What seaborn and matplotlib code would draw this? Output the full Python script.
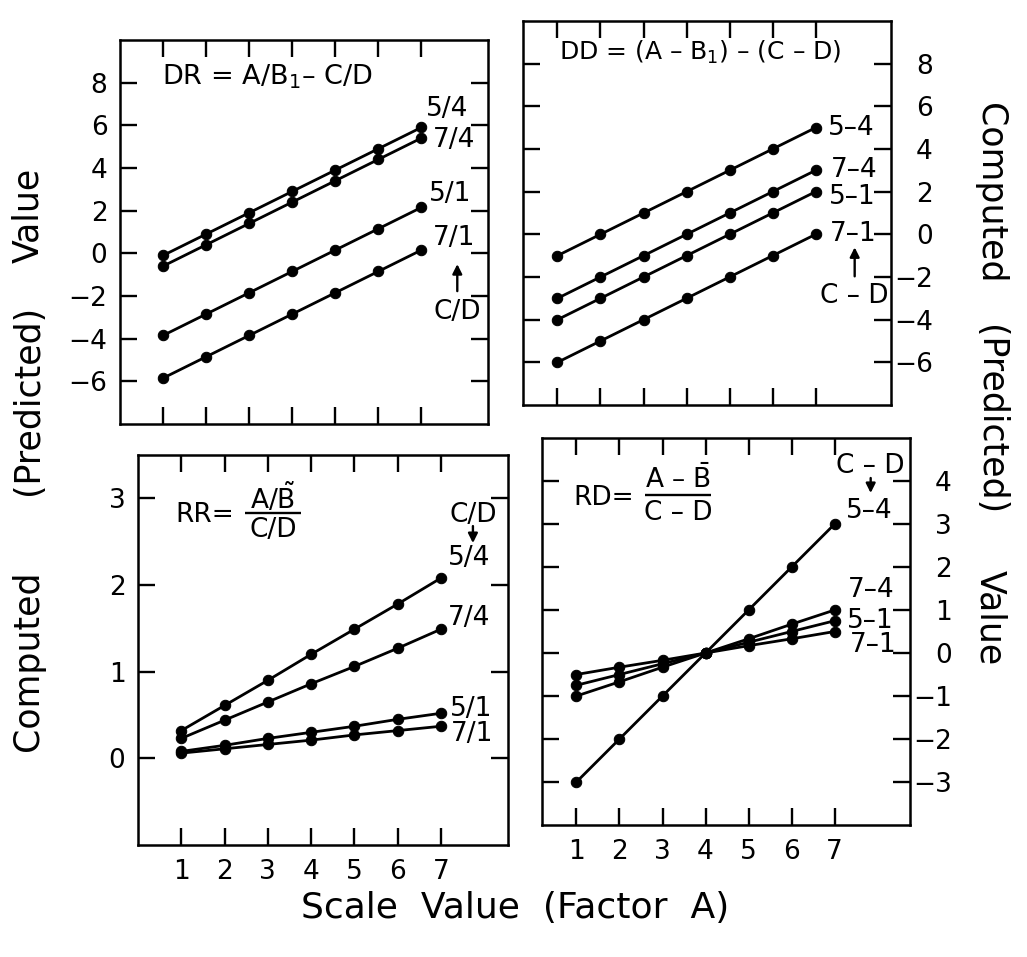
import numpy as np
import pandas as pd
import matplotlib
matplotlib.use("Agg")
import matplotlib.pyplot as plt
import seaborn as sns
from matplotlib.transforms import offset_copy

# ---------------------------------------------------------------- data
scale_values = [1, 2, 3, 4, 5, 6, 7]

# DR = A/B1 - C/D
dr_labels = ["5/4", "7/4", "5/1", "7/1"]
dr_54 = [-0.10, 0.90, 1.90, 2.90, 3.90, 4.90, 5.90]
dr_74 = [-0.60, 0.40, 1.40, 2.40, 3.40, 4.40, 5.40]
dr_51 = [-3.85, -2.85, -1.85, -0.85, 0.15, 1.15, 2.15]
dr_71 = [-5.85, -4.85, -3.85, -2.85, -1.85, -0.85, 0.15]
dr_yticks = [-6, -4, -2, 0, 2, 4, 6, 8]

# DD = (A - B1) - (C - D)
dd_labels = ["5–4", "7–4", "5–1", "7–1"]
dd_54 = [-1, 0, 1, 2, 3, 4, 5]
dd_74 = [-3, -2, -1, 0, 1, 2, 3]
dd_51 = [-4, -3, -2, -1, 0, 1, 2]
dd_71 = [-6, -5, -4, -3, -2, -1, 0]
dd_yticks = [-6, -4, -2, 0, 2, 4, 6, 8]

# RR = (A/B~) / (C/D)
rr_labels = ["5/4", "7/4", "5/1", "7/1"]
rr_54 = [0.32, 0.61, 0.90, 1.20, 1.49, 1.78, 2.08]
rr_74 = [0.23, 0.44, 0.65, 0.86, 1.06, 1.27, 1.49]
rr_51 = [0.08, 0.15, 0.23, 0.30, 0.37, 0.45, 0.52]
rr_71 = [0.06, 0.11, 0.16, 0.21, 0.27, 0.32, 0.37]
rr_yticks = [0, 1, 2, 3]

# RD = (A - B-bar) / (C - D)
rd_labels = ["5–4", "7–4", "5–1", "7–1"]
rd_54 = [-3.0, -2.0, -1.0, 0.0, 1.0, 2.0, 3.0]
rd_74 = [-1.0, -0.67, -0.33, 0.0, 0.33, 0.67, 1.0]
rd_51 = [-0.75, -0.50, -0.25, 0.0, 0.25, 0.50, 0.75]
rd_71 = [-0.50, -0.33, -0.17, 0.0, 0.17, 0.33, 0.50]
rd_yticks = [-3, -2, -1, 0, 1, 2, 3, 4]

y_title_words = ["Computed", "(Predicted)", "Value"]
x_title = "Scale  Value  (Factor  A)"

# ---------------------------------------------------------------- style
sns.set_style("ticks")
plt.rcParams["font.family"] = ["DejaVu Sans"]
plt.rcParams["mathtext.fontset"] = "dejavusans"
plt.rcParams["axes.unicode_minus"] = True
for key in ("text.color", "axes.labelcolor", "xtick.color", "ytick.color",
            "axes.edgecolor"):
    plt.rcParams[key] = "black"

W, H = 1027, 957
fig = plt.figure(figsize=(W / 100, H / 100), dpi=100)
fig.patch.set_facecolor("white")


def box(left, top, width, height):
    """Axes rectangle given in pixel units measured from the top-left."""
    return [left / W, 1 - (top + height) / H, width / W, height / H]


ax_dr = fig.add_axes(box(120, 40, 368, 384))
ax_dd = fig.add_axes(box(523, 21, 368, 384))
ax_rr = fig.add_axes(box(138, 455, 370, 390))
ax_rd = fig.add_axes(box(542, 438, 368, 387))

TICK_FS = 19
NOTE_FS = 19


def draw_panel(ax, labels, series, xlim, ylim, yticks, label_side, show_x):
    df = pd.DataFrame({
        "scale": np.tile(scale_values, len(series)),
        "value": np.concatenate([np.asarray(s, float) for s in series]),
        "curve": np.repeat(labels, len(scale_values)),
    })
    sns.lineplot(data=df, x="scale", y="value", hue="curve",
                 palette={lab: "black" for lab in labels},
                 errorbar=None, marker="o", markersize=7.5,
                 markeredgecolor="black", linewidth=2.0,
                 legend=False, ax=ax)
    ax.set_xlim(*xlim)
    ax.set_ylim(*ylim)
    ax.set_xticks(scale_values)
    ax.set_yticks(yticks)
    ax.set_xlabel("")
    ax.set_ylabel("")
    for sp in ax.spines.values():
        sp.set_visible(True)
        sp.set_linewidth(1.8)
        sp.set_color("black")
    ax.tick_params(axis="both", direction="in", length=12, width=1.7,
                   top=True, bottom=True, left=True, right=True,
                   labelsize=TICK_FS, colors="black")
    ax.tick_params(axis="x", labelbottom=show_x, labeltop=False, pad=10)
    if label_side == "left":
        ax.tick_params(axis="y", labelleft=True, labelright=False, pad=9)
    else:
        ax.tick_params(axis="y", labelleft=False, labelright=True, pad=30)
        for t in ax.yaxis.get_major_ticks():
            t.label2.set_horizontalalignment("right")
    ax.set_facecolor("white")


def end_labels(ax, labels, series, offsets):
    for lab, s, (dx, dy) in zip(labels, series, offsets):
        ax.annotate(lab, xy=(scale_values[-1], s[-1]), xycoords="data",
                    xytext=(dx, -dy), textcoords="offset pixels",
                    ha="left", va="center", fontsize=NOTE_FS)


def key_arrow(ax, anchor_y, dx, dy_tail, dy_head, text, dy_text):
    x_end = scale_values[-1]
    tail = offset_copy(ax.transData, fig=fig, x=dx, y=-dy_tail, units="dots")
    head = offset_copy(ax.transData, fig=fig, x=dx, y=-dy_head, units="dots")
    ax.annotate("", xy=(x_end, anchor_y), xycoords=head,
                xytext=(x_end, anchor_y), textcoords=tail,
                arrowprops=dict(arrowstyle="-|>", color="black", lw=1.7,
                                mutation_scale=14, shrinkA=0, shrinkB=0))
    ax.annotate(text, xy=(x_end, anchor_y), xycoords="data",
                xytext=(dx, -dy_text), textcoords="offset pixels",
                ha="center", va="center", fontsize=NOTE_FS)


def fraction(ax, lead, lead_x, num, den, cx, y_num, y_line, y_den, x0, x1, y_lead):
    ax.text(lead_x, y_lead, lead, transform=ax.transAxes, ha="left",
            va="center", fontsize=NOTE_FS)
    ax.text(cx, y_num, num, transform=ax.transAxes, ha="center",
            va="center", fontsize=NOTE_FS)
    ax.text(cx, y_den, den, transform=ax.transAxes, ha="center",
            va="center", fontsize=NOTE_FS)
    ax.plot([x0, x1], [y_line, y_line], transform=ax.transAxes,
            color="black", lw=1.7, solid_capstyle="butt")


# ---- DR
dr_series = [dr_54, dr_74, dr_51, dr_71]
draw_panel(ax_dr, dr_labels, dr_series, (0, 8.55), (-8, 10), dr_yticks, "left", False)
end_labels(ax_dr, dr_labels, dr_series, [(5, -18), (12, 2), (8, -13), (12, -12)])
key_arrow(ax_dr, dr_71[-1], 36, 41, 14, "C/D", 62)
ax_dr.text(0.114, 0.904, "DR = A/B$_1$– C/D", transform=ax_dr.transAxes,
           ha="left", va="center", fontsize=19.5)

# ---- DD
dd_series = [dd_54, dd_74, dd_51, dd_71]
draw_panel(ax_dd, dd_labels, dd_series, (0.2, 8.75), (-8, 10), dd_yticks, "right", False)
end_labels(ax_dd, dd_labels, dd_series, [(12, 0), (15, 0), (13, 5), (14, 0)])
key_arrow(ax_dd, dd_71[-1], 39, 42, 13, "C – D", 62)
ax_dd.text(0.098, 0.917, "DD = (A – B$_1$) – (C – D)", transform=ax_dd.transAxes,
           ha="left", va="center", fontsize=18)

# ---- RR
rr_series = [rr_54, rr_74, rr_51, rr_71]
draw_panel(ax_rr, rr_labels, rr_series, (0, 8.55), (-1, 3.5), rr_yticks, "left", True)
end_labels(ax_rr, rr_labels, rr_series, [(7, -20), (7, -11), (9, -4), (10, 8)])
key_arrow(ax_rr, rr_54[-1], 32, -52, -35, "C/D", -63)
fraction(ax_rr, "RR=", 0.10, r"A/$\tilde{\mathrm{B}}$", "C/D",
         0.365, 0.890, 0.851, 0.807, 0.29, 0.44, 0.847)

# ---- RD
rd_series = [rd_54, rd_74, rd_51, rd_71]
draw_panel(ax_rd, rd_labels, rd_series, (0.2, 8.75), (-4, 5), rd_yticks, "right", True)
end_labels(ax_rd, rd_labels, rd_series, [(11, -13), (13, -20), (12, 0), (15, 14)])
key_arrow(ax_rd, rd_54[-1], 36, -46, -31, "C – D", -58)
fraction(ax_rd, "RD=", 0.085, r"A – $\bar{\mathrm{B}}$", "C – D",
         0.37, 0.893, 0.853, 0.806, 0.28, 0.46, 0.845)

# ---- shared axis titles (word centres along the vertical edges)
for word, y_left, y_right in zip(y_title_words, (661, 400, 215), (193, 420, 618)):
    fig.text(28 / W, 1 - y_left / H, word, rotation=90, ha="center",
             va="center", fontsize=25)
    fig.text(990 / W, 1 - y_right / H, word, rotation=-90, ha="center",
             va="center", fontsize=25)
fig.text(515 / W, 1 - 908 / H, x_title, ha="center", va="center", fontsize=26)

fig.savefig("out.png", dpi=100, facecolor="white")
